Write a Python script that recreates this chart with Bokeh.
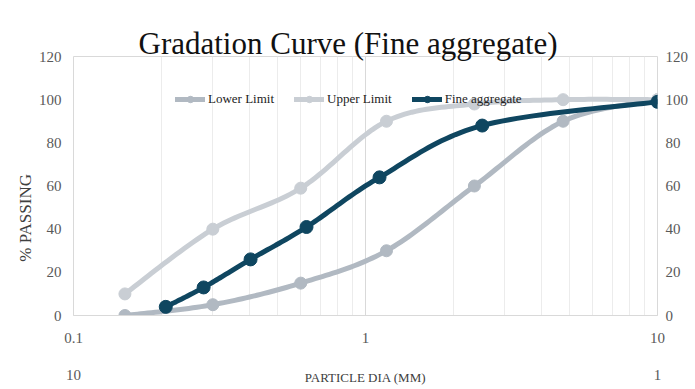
import numpy as np
from bokeh.plotting import figure
from bokeh.models import (Range1d, LinearAxis, FixedTicker, Legend, LegendItem, Title)
from bokeh.embed import file_html
from bokeh.resources import INLINE

# ---- data ----
sieve_limits = [0.15, 0.3, 0.6, 1.18, 2.36, 4.75, 10]
lower_limit = [0, 5, 15, 30, 60, 90, 100]
upper_limit = [10, 40, 59, 90, 98, 100, 100]
sieve_fine = [0.207, 0.279, 0.404, 0.628, 1.117, 2.51, 10]
fine_aggregate = [4, 13, 26, 41, 64, 88, 99]
x_ticks = [0.1, 1, 10]
x_minor = [0.2, 0.3, 0.4, 0.5, 0.6, 0.7, 0.8, 0.9, 2, 3, 4, 5, 6, 7, 8, 9]
y_ticks = [0, 20, 40, 60, 80, 100, 120]
x2_ticks = [10, 1]

SERIF = "Liberation Serif"
LOWER_C = "#b1b9c2"
UPPER_C = "#c9ced4"
FINE_C = "#0f4660"
LABEL_C = "#595959"


def smooth(xs, ys, n=24):
    """Catmull-Rom rendering of the polyline through the data (log-x space)."""
    P = np.column_stack([np.log10(xs), np.asarray(ys, float)])
    P = np.vstack([P[0], P, P[-1]])
    out = []
    t = np.linspace(0, 1, n, endpoint=False)[:, None]
    for i in range(1, len(P) - 2):
        p0, p1, p2, p3 = P[i - 1], P[i], P[i + 1], P[i + 2]
        seg = 0.5 * ((2 * p1) + (-p0 + p2) * t + (2 * p0 - 5 * p1 + 4 * p2 - p3) * t ** 2
                     + (-p0 + 3 * p1 - 3 * p2 + p3) * t ** 3)
        out.append(seg)
    out.append(P[-2][None, :])
    arr = np.vstack(out)
    return 10 ** arr[:, 0], arr[:, 1]


p = figure(width=694, height=388, x_axis_type="log",
           x_range=Range1d(0.1, 10), y_range=Range1d(0, 120),
           output_backend="svg", toolbar_location=None,
           min_border_left=73, min_border_right=37,
           min_border_top=56, min_border_bottom=73)

p.background_fill_color = "white"
p.border_fill_color = "white"
p.outline_line_color = "#d9d9d9"

p.title = Title(text="Gradation Curve (Fine aggregate)", align="left", offset=65,
                text_font=SERIF, text_font_size="31px", text_font_style="normal",
                text_color="#111111", standoff=-8)

# grids
p.xgrid.ticker = FixedTicker(ticks=[1], minor_ticks=x_minor)
p.xgrid.grid_line_color = "#d9d9d9"
p.xgrid.minor_grid_line_color = "#ececec"
p.ygrid.grid_line_color = None


def style_axis(ax, standoff):
    ax.axis_line_color = None
    ax.major_tick_line_color = None
    ax.minor_tick_line_color = None
    ax.major_tick_out = 0
    ax.minor_tick_out = 0
    ax.major_tick_in = 0
    ax.minor_tick_in = 0
    ax.major_label_text_font = SERIF
    ax.major_label_text_font_size = "15px"
    ax.major_label_text_color = LABEL_C
    ax.major_label_standoff = standoff


# primary x axis
xa = p.xaxis[0]
xa.ticker = FixedTicker(ticks=x_ticks, minor_ticks=[])
xa.major_label_overrides = {0.1: "0.1", 1: "1", 10: "10"}
style_axis(xa, 17)
xa.axis_line_color = "#d9d9d9"

# secondary x axis (10 .. 1)
p.extra_x_ranges = {"x2": Range1d(10, 1)}
xb = LinearAxis(x_range_name="x2", ticker=FixedTicker(ticks=x2_ticks, minor_ticks=[]),
                axis_label="PARTICLE DIA (MM)")
style_axis(xb, 24)
xb.axis_label_text_font = SERIF
xb.axis_label_text_font_size = "13px"
xb.axis_label_text_font_style = "normal"
xb.axis_label_text_color = "#404040"
xb.axis_label_standoff = -13
p.add_layout(xb, "below")

# left y axis
ya = p.yaxis[0]
ya.ticker = FixedTicker(ticks=y_ticks, minor_ticks=[])
style_axis(ya, 12)
ya.axis_label = "% PASSING" + "\u00a0" * 15
ya.axis_label_text_font = SERIF
ya.axis_label_text_font_size = "17px"
ya.axis_label_text_font_style = "normal"
ya.axis_label_text_color = "#404040"
ya.axis_label_standoff = 1

# right y axis
yr = LinearAxis(ticker=FixedTicker(ticks=y_ticks, minor_ticks=[]))
style_axis(yr, 8)
p.add_layout(yr, "right")

# series
xl, yl = smooth(sieve_limits, lower_limit)
l1 = p.line(xl, yl, line_width=5, line_color=LOWER_C, line_cap="round", line_join="round")
s1 = p.scatter(sieve_limits, lower_limit, size=12, color=LOWER_C)

xu, yu = smooth(sieve_limits, upper_limit)
l2 = p.line(xu, yu, line_width=5, line_color=UPPER_C, line_cap="round", line_join="round")
s2 = p.scatter(sieve_limits, upper_limit, size=12, color=UPPER_C)

xf, yf = smooth(sieve_fine, fine_aggregate)
l3 = p.line(xf, yf, line_width=5, line_color=FINE_C, line_cap="round", line_join="round")
s3 = p.scatter(sieve_fine, fine_aggregate, size=13, color=FINE_C)

legend = Legend(items=[LegendItem(label="Lower Limit", renderers=[l1, s1]),
                       LegendItem(label="Upper Limit", renderers=[l2, s2]),
                       LegendItem(label="Fine aggregate", renderers=[l3, s3])],
                orientation="horizontal", location=(102, 208),
                background_fill_alpha=0, border_line_alpha=0,
                label_text_font=SERIF, label_text_font_size="13px",
                label_text_color="#222222",
                glyph_width=30, glyph_height=16, label_height=16,
                label_standoff=3, spacing=20, padding=0, margin=0)
p.add_layout(legend, "center")

open("out.html", "w").write(file_html(p, INLINE))
